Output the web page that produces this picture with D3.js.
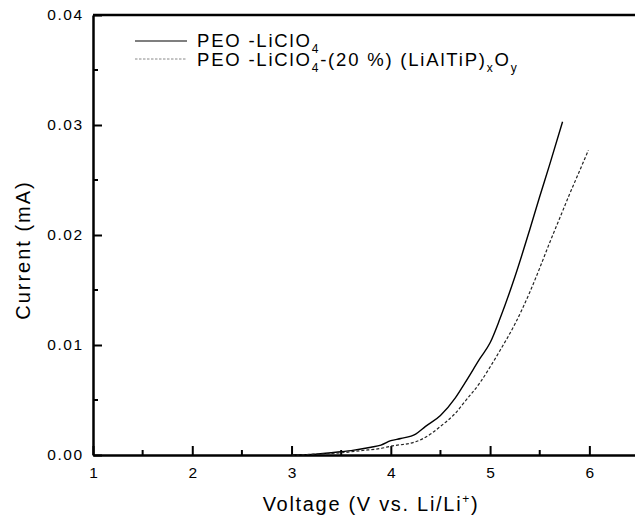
<!DOCTYPE html>
<html>
<head>
<meta charset="utf-8">
<script src="https://cdn.jsdelivr.net/npm/d3@7"></script>
<style>
  html, body { margin: 0; padding: 0; background: #fff; }
  svg { display: block; font-family: "Liberation Sans", Arial, sans-serif; }
</style>
</head>
<body>
<svg id="chart" width="635" height="519"></svg>
<script>
// voltage (V) and current (mA)
const pureV = [3.0, 3.2, 3.4, 3.5, 3.6, 3.8, 3.9, 4.0, 4.1, 4.25, 4.35, 4.5, 4.65, 4.75, 4.9, 5.0, 5.1, 5.25, 5.4, 5.5, 5.6, 5.73];
const pureI = [0, 0.00005, 0.0002, 0.0003, 0.0004, 0.0007, 0.0009, 0.0013, 0.0015, 0.0019, 0.0026, 0.0036, 0.0052, 0.0066, 0.0088, 0.0102, 0.0124, 0.0162, 0.0205, 0.0235, 0.0264, 0.0303];
const compV = [3.0, 3.3, 3.5, 3.7, 3.9, 4.0, 4.25, 4.4, 4.5, 4.65, 4.75, 4.9, 5.0, 5.1, 5.25, 5.4, 5.5, 5.6, 5.7, 5.8, 5.9, 5.99];
const compI = [0, 0.0001, 0.0002, 0.0004, 0.0006, 0.0008, 0.0012, 0.0019, 0.0026, 0.0038, 0.0049, 0.0066, 0.0080, 0.0095, 0.0119, 0.0148, 0.0170, 0.0193, 0.0215, 0.0237, 0.0258, 0.0277];
const xTicks = [1, 2, 3, 4, 5, 6];
const yTicks = [0, 0.01, 0.02, 0.03, 0.04];

const svg = d3.select("#chart");
const x = d3.scaleLinear().domain([1, 6.5]).range([93, 639]);
const y = d3.scaleLinear().domain([0, 0.04]).range([455, 15]);

// top border
svg.append("line")
  .attr("x1", x(1)).attr("x2", 635)
  .attr("y1", y(0.04)).attr("y2", y(0.04))
  .attr("stroke", "#000").attr("stroke-width", 2.5);

// minor ticks
const xMinor = d3.range(1.5, 6.5, 1);
const yMinor = d3.range(0.005, 0.04, 0.01);
svg.append("g").selectAll("line").data(xMinor).join("line")
  .attr("x1", d => x(d)).attr("x2", d => x(d))
  .attr("y1", y(0)).attr("y2", y(0) - 5)
  .attr("stroke", "#000").attr("stroke-width", 2);
svg.append("g").selectAll("line").data(yMinor).join("line")
  .attr("x1", x(1)).attr("x2", x(1) + 5)
  .attr("y1", d => y(d)).attr("y2", d => y(d))
  .attr("stroke", "#000").attr("stroke-width", 2);

function styleAxis(g) {
  g.select(".domain").attr("stroke", "#000").attr("stroke-width", 2.5);
  g.selectAll(".tick line").attr("stroke", "#000").attr("stroke-width", 2);
  g.selectAll(".tick text")
    .attr("fill", "#000").attr("font-size", 15.5)
    .attr("letter-spacing", 1.5)
    .attr("font-family", "Liberation Sans, Arial, sans-serif");
}

const xAxis = svg.append("g")
  .attr("transform", `translate(0,${y(0)})`)
  .call(d3.axisBottom(x).tickValues(xTicks).tickSize(-9).tickSizeOuter(0).tickFormat(d3.format("d")))
  .call(styleAxis);
xAxis.selectAll(".tick text").attr("y", 12).attr("dx", 0.75);

const yAxis = svg.append("g")
  .attr("transform", `translate(${x(1)},0)`)
  .call(d3.axisLeft(y).tickValues(yTicks).tickSize(-9).tickSizeOuter(0).tickFormat(d3.format(".2f")))
  .call(styleAxis);
yAxis.selectAll(".tick text").attr("x", -9.5);

// series
const line = d3.line().x(d => x(d[0])).y(d => y(d[1])).curve(d3.curveMonotoneX);
svg.append("path").datum(d3.zip(pureV, pureI))
  .attr("d", line).attr("fill", "none").attr("stroke", "#000").attr("stroke-width", 1.4);
svg.append("path").datum(d3.zip(compV, compI))
  .attr("d", line).attr("fill", "none").attr("stroke", "#222").attr("stroke-width", 1.2)
  .attr("stroke-dasharray", "3,2");

// axis titles
svg.append("text")
  .attr("x", 371).attr("y", 511).attr("text-anchor", "middle")
  .attr("font-size", 20).attr("letter-spacing", 1.7)
  .call(t => {
    t.append("tspan").text("Voltage (V vs. Li/Li");
    t.append("tspan").attr("dy", -8).attr("font-size", 12).text("+");
    t.append("tspan").attr("dy", 8).text(")");
  });
svg.append("text")
  .attr("transform", "translate(30,250) rotate(-90)")
  .attr("text-anchor", "middle").attr("font-size", 20).attr("letter-spacing", 2)
  .text("Current (mA)");

// legend
const lg = svg.append("g");
lg.append("line").attr("x1", 135).attr("x2", 187).attr("y1", 41).attr("y2", 41)
  .attr("stroke", "#000").attr("stroke-width", 1.2);
lg.append("line").attr("x1", 135).attr("x2", 187).attr("y1", 59).attr("y2", 59)
  .attr("stroke", "#888").attr("stroke-width", 1).attr("stroke-dasharray", "2.5,1.5");
lg.append("text").attr("x", 197).attr("y", 47).attr("font-size", 18.5).attr("letter-spacing", 1.8)
  .call(t => {
    t.append("tspan").text("PEO -LiClO");
    t.append("tspan").attr("dy", 6).attr("font-size", 12).text("4");
  });
lg.append("text").attr("x", 197).attr("y", 66).attr("font-size", 18.5).attr("letter-spacing", 1.8)
  .call(t => {
    t.append("tspan").text("PEO -LiClO");
    t.append("tspan").attr("dy", 6).attr("font-size", 12).text("4");
    t.append("tspan").attr("dy", -6).text("-(20 %) (LiAlTiP)");
    t.append("tspan").attr("dy", 6).attr("font-size", 12).text("x");
    t.append("tspan").attr("dy", -6).text("O");
    t.append("tspan").attr("dy", 6).attr("font-size", 12).text("y");
  });
</script>
</body>
</html>
